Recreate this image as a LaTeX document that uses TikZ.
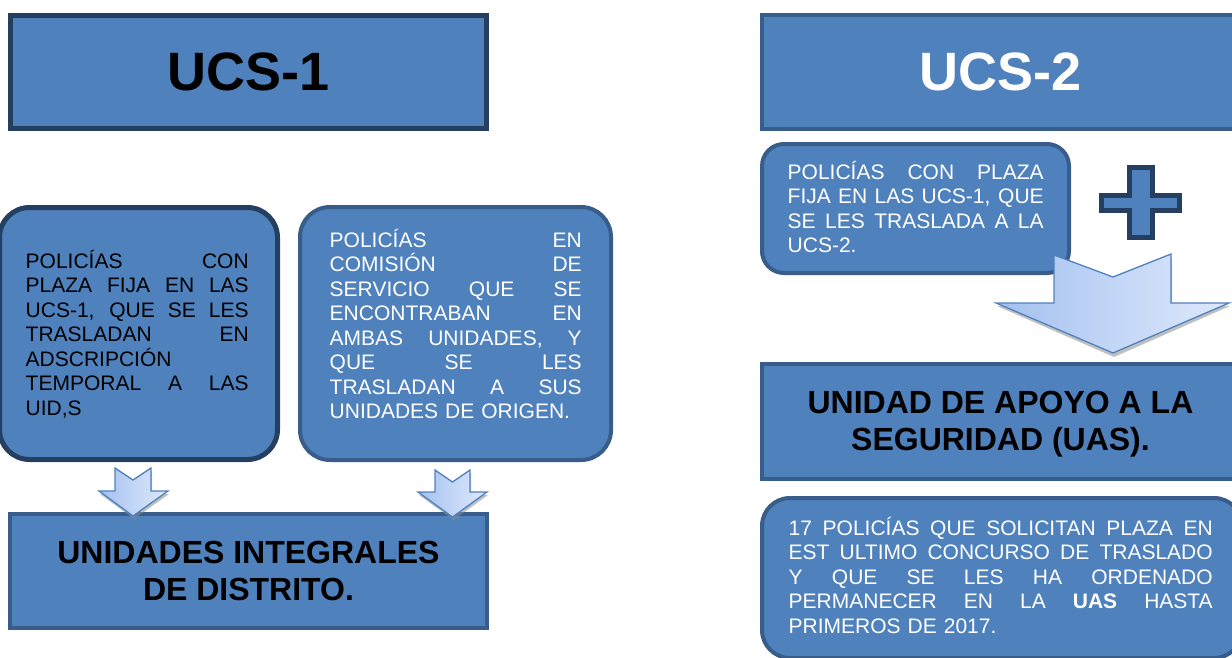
\documentclass[tikz,border=0pt]{standalone}
\usepackage{fontspec}
\setmainfont{Liberation Sans}
\usetikzlibrary{calc}
\definecolor{fillblue}{HTML}{4F81BD}
\definecolor{darkline}{HTML}{243F60}
\definecolor{midline}{HTML}{385D8A}
\definecolor{arrL}{HTML}{A3C0EE}
\definecolor{arrM}{HTML}{C3D6F7}
\definecolor{arrR}{HTML}{DDE8FB}
\definecolor{arrStroke}{HTML}{4F81BD}
\newcommand{\J}[1]{\leavevmode\hbox to \hsize{\spaceskip=0.278em plus 1fil\relax #1}}
\begin{document}
\begin{tikzpicture}[x=1pt,y=-1pt,
  box/.style={draw=midline, fill=fillblue, line width=4pt, inner sep=0pt},
  darkbox/.style={box, draw=darkline, line width=5pt},
  hdrtext/.style={font=\bfseries\fontsize{54}{60}\selectfont},
  bigtext/.style={font=\bfseries\fontsize{32}{37.5}\selectfont, align=center},
  bodytext/.style={font=\fontsize{21}{24.5}\selectfont, align=left, inner sep=0pt, anchor=base west},
  blockarrow/.style={draw=arrStroke, line width=1.3pt, line join=miter, left color=arrL, right color=arrR, middle color=arrM},
  arrowshadow/.style={fill=black!45, opacity=0.55}
]
\useasboundingbox (0,0) rectangle (1232,657);

% ---------- left column ----------
\node[darkbox, minimum width=476pt, minimum height=113pt, hdrtext, text=black] (ucs1) at (248.5,72) {UCS-1};

\node[darkbox, rounded corners=30pt, minimum width=278pt, minimum height=252pt] (b1) at (138.5,333.5) {};
\node[bodytext, text width=223pt, text=black] (t1) at (25.5,268) {%
\J{POLICÍAS CON}\\
\J{PLAZA FIJA EN LAS}\\
\J{UCS-1, QUE SE LES}\\
\J{TRASLADAN EN}\\
ADSCRIPCIÓN\\
\J{TEMPORAL A LAS}\\
UID,S};

\node[box, rounded corners=30pt, minimum width=311pt, minimum height=253pt] (b2) at (455.5,333.5) {};
\node[bodytext, text width=252pt, text=white] (t2) at (329.5,247) {%
\J{POLICÍAS EN}\\
\J{COMISIÓN DE}\\
\J{SERVICIO QUE SE}\\
\J{ENCONTRABAN EN}\\
\J{AMBAS UNIDADES, Y}\\
\J{QUE SE LES}\\
\J{TRASLADAN A SUS}\\
UNIDADES DE ORIGEN.};

\node[box, minimum width=477pt, minimum height=114pt, bigtext, text=black] (uid) at (248.5,571) {UNIDADES INTEGRALES\\DE DISTRITO.};

% small arrows
\coordinate (a1) at (133,516);
\coordinate (a2) at (452.5,517);
\fill[arrowshadow] (116,471) -- (134,483) -- (152,471) -- (152,494) -- (169,494) -- (134,519) -- (100,494) -- (116,494) -- cycle;
\draw[blockarrow] (115,468) -- (133,480) -- (151,468) -- (151,491) -- (168,491) -- (a1) -- (99,491) -- (115,491) -- cycle;
\fill[arrowshadow] (436,473) -- (453.5,485) -- (471,473) -- (471,495) -- (488,495) -- (453.5,520) -- (419,495) -- (436,495) -- cycle;
\draw[blockarrow] (435,470) -- (452.5,482) -- (470,470) -- (470,492) -- (487,492) -- (a2) -- (418,492) -- (435,492) -- cycle;

% ---------- right column ----------
\node[box, minimum width=477pt, minimum height=114pt, hdrtext, text=white] (ucs2) at (1000.5,72) {UCS-2};

\node[box, rounded corners=22pt, minimum width=307pt, minimum height=129pt] (b3) at (915.5,208.5) {};
\node[bodytext, text width=256pt, text=white] (t3) at (787.5,179) {%
\J{POLICÍAS CON PLAZA}\\
\J{FIJA EN LAS UCS-1, QUE}\\
\J{SE LES TRASLADA A LA}\\
UCS-2.};

% plus sign
\draw[draw=darkline, fill=fillblue, line width=5pt, line join=miter]
  (1129.5,167.5) -- (1152.5,167.5) -- (1152.5,195.5) -- (1179.5,195.5) -- (1179.5,210.5)
  -- (1152.5,210.5) -- (1152.5,237.5) -- (1129.5,237.5) -- (1129.5,210.5) -- (1101.5,210.5)
  -- (1101.5,195.5) -- (1129.5,195.5) -- cycle;

% big arrow
\coordinate (a3) at (1113,353);
\fill[arrowshadow] (1055,259) -- (1114,281) -- (1172,258) -- (1172,306) -- (1230,306) -- (1114,357) -- (997,306) -- (1055,306) -- cycle;
\draw[blockarrow] (1054,255) -- (1113,277) -- (1171,254) -- (1171,303) -- (1229,303) -- (a3) -- (996,303) -- (1054,303) -- cycle;

\node[box, minimum width=477pt, minimum height=115pt] (uas) at (1000.5,421.5) {};
\node[bigtext, text=black, inner sep=0pt] (uastext) at (1000.5,424) {UNIDAD DE APOYO A LA\\SEGURIDAD (UAS).};

\node[box, rounded corners=28pt, minimum width=480pt, minimum height=160pt] (b4) at (1002,578) {};
\node[bodytext, text width=424pt, text=white] (t4) at (788.5,535) {%
\J{17 POLICÍAS QUE SOLICITAN PLAZA EN}\\
\J{EST ULTIMO CONCURSO DE TRASLADO}\\
\J{Y QUE SE LES HA ORDENADO}\\
\J{PERMANECER EN LA \textbf{UAS} HASTA}\\
PRIMEROS DE 2017.};
\end{tikzpicture}
\end{document}
